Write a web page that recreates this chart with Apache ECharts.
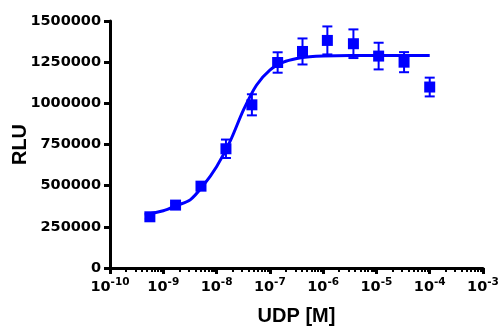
<!DOCTYPE html>
<html><head><meta charset="utf-8">
<script src="https://cdn.jsdelivr.net/npm/echarts@6/dist/echarts.min.js"></script>
<style>html,body{margin:0;padding:0;background:#fff}#c{width:502px;height:326px}</style>
</head><body><div id="c"></div>
<script>
// Concentrations (M), means and error (SEM)
var conc = [5.6e-10, 1.7e-9, 5.1e-9, 1.5e-8, 4.6e-8, 1.4e-7, 4.1e-7, 1.2e-6, 3.7e-6, 1.1e-5, 3.3e-5, 1e-4];
var rlu  = [311000, 382000, 497000, 724000, 991000, 1248000, 1315000, 1382000, 1362000, 1287000, 1250000, 1099000];
var err  = [12000, 12000, 20000, 56000, 64000, 62000, 79000, 85000, 87000, 81000, 61000, 57000];
// Fitted curve
var curveX = [4.5e-10, 1.0e-9, 1.8e-9, 3.2e-9, 5.6e-9, 1.0e-8, 1.8e-8, 3.2e-8, 5.6e-8, 1.0e-7, 1.8e-7, 3.2e-7, 5.6e-7, 1.0e-6, 3.2e-6, 1e-5, 1e-4];
var curveY = [325000, 348000, 380000, 414000, 500000, 615000, 770000, 960000, 1110000, 1202000, 1250000, 1272000, 1283000, 1288000, 1291000, 1291000, 1291000];
// Axis ticks
var xMin = 1e-10, xMax = 1e-3;
var yMin = 0, yMax = 1500000, yStep = 250000;

var BLUE = '#0000ff';
var FONT = 'DejaVu Sans';
var chart = echarts.init(document.getElementById('c'), null, {renderer: 'canvas'});

var pts = conc.map(function (c, i) { return [c, rlu[i]]; });
var bars = conc.map(function (c, i) { return [c, rlu[i] - err[i], rlu[i] + err[i]]; });
var curve = curveX.map(function (c, i) { return [c, curveY[i]]; });

chart.setOption({
  animation: false,
  grid: {left: 110, right: 19, top: 21, bottom: 58, containLabel: false, outerBoundsMode: 'none'},
  xAxis: {
    type: 'log', logBase: 10, min: xMin, max: xMax,
    name: 'UDP [M]', nameLocation: 'middle', nameGap: 38, nameMoveOverlap: false,
    nameTextStyle: {fontFamily: 'Liberation Sans', fontWeight: 'bold', fontSize: 20, color: '#000'},
    axisLine: {show: true, onZero: false, lineStyle: {color: '#000', width: 3}},
    axisTick: {show: true, inside: false, length: 6, lineStyle: {color: '#000', width: 3}},
    minorTick: {show: true, splitNumber: 9, length: 4, lineStyle: {color: '#000', width: 2}},
    splitLine: {show: false}, minorSplitLine: {show: false},
    axisLabel: {
      margin: 9,
      formatter: function (v) {
        var e = Math.round(Math.log10(v));
        return '{b|10}{s|' + e + '}';
      },
      rich: {
        b: {fontFamily: FONT, fontWeight: 'bold', fontSize: 14.5, color: '#000', lineHeight: 18, verticalAlign: 'bottom'},
        s: {fontFamily: FONT, fontWeight: 'bold', fontSize: 10.5, color: '#000', lineHeight: 13, verticalAlign: 'top'}
      }
    }
  },
  yAxis: {
    type: 'value', min: yMin, max: yMax, interval: yStep,
    name: 'RLU', nameLocation: 'middle', nameGap: 80, nameRotate: 90, nameMoveOverlap: false,
    nameTextStyle: {fontFamily: 'Liberation Sans', fontWeight: 'bold', fontSize: 20, color: '#000'},
    axisLine: {show: true, lineStyle: {color: '#000', width: 3}},
    axisTick: {show: true, inside: false, length: 6, lineStyle: {color: '#000', width: 3}},
    splitLine: {show: false},
    axisLabel: {margin: 9, fontFamily: FONT, fontWeight: 'bold', fontSize: 14.5, color: '#000',
      formatter: function (v) { return String(v); }}
  },
  series: [
    {
      type: 'line', data: curve, smooth: 0.3, showSymbol: false,
      lineStyle: {color: BLUE, width: 3}, z: 2, silent: true
    },
    {
      type: 'custom', data: bars, z: 3, silent: true,
      renderItem: function (params, api) {
        var x = api.value(0);
        var lo = api.coord([x, api.value(1)]);
        var hi = api.coord([x, api.value(2)]);
        var hw = 5;
        var st = {stroke: BLUE, lineWidth: 2};
        return {type: 'group', children: [
          {type: 'line', shape: {x1: lo[0], y1: lo[1], x2: hi[0], y2: hi[1]}, style: st},
          {type: 'line', shape: {x1: lo[0] - hw, y1: lo[1], x2: lo[0] + hw, y2: lo[1]}, style: st},
          {type: 'line', shape: {x1: hi[0] - hw, y1: hi[1], x2: hi[0] + hw, y2: hi[1]}, style: st}
        ]};
      }
    },
    {
      type: 'scatter', data: pts, symbol: 'rect', symbolSize: 11,
      itemStyle: {color: BLUE, opacity: 1}, z: 4, silent: true
    }
  ]
});
</script></body></html>
